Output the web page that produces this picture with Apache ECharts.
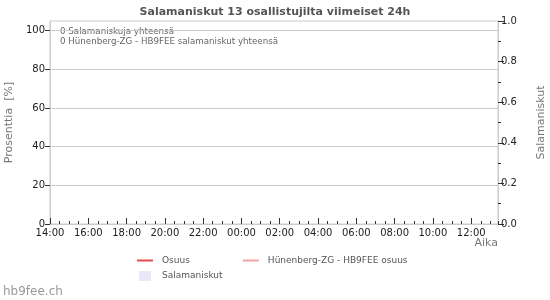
<!DOCTYPE html>
<html><head><meta charset="utf-8">
<script src="https://cdn.jsdelivr.net/npm/echarts@6/dist/echarts.min.js"></script>
<style>html,body{margin:0;padding:0;background:#fff}#c{width:550px;height:300px}</style>
</head><body><div id="c"></div>
<script>
// Hours since 14:00 (window ends ~13:24)
var startHour = 14;
var xMax = 23.4;
var xLabelHours = [0, 2, 4, 6, 8, 10, 12, 14, 16, 18, 20, 22];
var leftTicks = [0, 20, 40, 60, 80, 100];
var osuusData = [];          // no strikes -> no points
var hunenbergData = [];      // no strikes -> no points
var salamaData = [];         // no strikes -> no bars
var infoLines = ['0 Salamaniskuja yhteensä', '0 Hünenberg-ZG - HB9FEE salamaniskut yhteensä'];

var font = 'DejaVu Sans';
function hh(v){ var h = (startHour + Math.round(v)) % 24; return (h < 10 ? '0' : '') + h + ':00'; }

var chart = echarts.init(document.getElementById('c'), null, {renderer: 'canvas'});
chart.setOption({
  animation: false,
  textStyle: {fontFamily: font},
  title: {text: 'Salamaniskut 13 osallistujilta viimeiset 24h', left: 'center', top: 2,
    textStyle: {fontFamily: font, fontSize: 11, fontWeight: 'bold', color: '#555'}},
  grid: {left: 50, right: 52, top: 21, bottom: 76, show: true, borderColor: '#ccc', borderWidth: 1,
         containLabel: false, outerBoundsMode: 'none'},
  legend: [
    {data: [{name: 'Osuus', icon: 'rect'}, {name: 'Hünenberg-ZG - HB9FEE osuus', icon: 'rect'}],
     left: 137, top: 256, padding: 0, itemWidth: 16, itemHeight: 2, itemGap: 53, selectedMode: false,
     textStyle: {fontFamily: font, fontSize: 9, color: '#555', padding: [0, 0, 0, 4]}},
    {data: [{name: 'Salamaniskut', icon: 'rect'}],
     left: 139, top: 271, padding: 0, itemWidth: 12, itemHeight: 10, selectedMode: false,
     textStyle: {fontFamily: font, fontSize: 9, color: '#555', padding: [0, 0, 0, 6]}}
  ],
  xAxis: [
    {type: 'value', min: 0, max: xMax, position: 'bottom',
     name: 'Aika', nameLocation: 'end', nameGap: 0,
     nameTextStyle: {fontFamily: font, fontSize: 11, color: '#777', align: 'right', verticalAlign: 'top', padding: [14, 0, 0, 0]},
     axisLine: {show: true, onZero: false, lineStyle: {color: '#ccc'}},
     axisTick: {show: true, inside: true, length: 6, lineStyle: {color: '#333'}, customValues: xLabelHours},
     axisLabel: {customValues: xLabelHours, formatter: hh, fontFamily: font, fontSize: 10, color: '#222', margin: 4},
     splitLine: {show: false}},
    {type: 'value', min: 0, max: xMax, interval: 0.5, position: 'bottom',
     axisLine: {show: false, onZero: false},
     axisTick: {show: true, inside: true, length: 3, lineStyle: {color: '#333'}},
     axisLabel: {show: false}, splitLine: {show: false}}
  ],
  yAxis: [
    {type: 'value', min: 0, max: 105, position: 'left',
     name: 'Prosenttia  [%]', nameLocation: 'middle', nameGap: 32,
     nameTextStyle: {fontFamily: font, fontSize: 11, color: '#777'},
     axisLine: {show: true, onZero: false, lineStyle: {color: '#ccc'}},
     axisTick: {show: true, length: 5, lineStyle: {color: '#333'}, customValues: leftTicks},
     axisLabel: {customValues: leftTicks, fontFamily: font, fontSize: 10, color: '#222', margin: 5},
     splitLine: {show: true, lineStyle: {color: '#ccc'}}},
    {type: 'value', min: 0, max: 1, interval: 0.2, position: 'right',
     name: 'Salamaniskut', nameLocation: 'middle', nameGap: 38, nameRotate: 90,
     nameTextStyle: {fontFamily: font, fontSize: 11, color: '#777'},
     axisLine: {show: true, onZero: false, lineStyle: {color: '#ccc'}},
     axisTick: {show: true, length: 6, lineStyle: {color: '#333'}},
     minorTick: {show: true, splitNumber: 2, length: 3, lineStyle: {color: '#333'}},
     axisLabel: {formatter: function(v){return v.toFixed(1);}, fontFamily: font, fontSize: 10, color: '#222', margin: 3},
     splitLine: {show: false}}
  ],
  graphic: [
    {type: 'text', left: 60, top: 27, style: {text: infoLines[0], font: '8.7px DejaVu Sans', fill: '#666'}},
    {type: 'text', left: 60, top: 37, style: {text: infoLines[1], font: '8.7px DejaVu Sans', fill: '#666'}},
    {type: 'text', left: 3, top: 286, style: {text: 'hb9fee.ch', font: '12px DejaVu Sans', fill: '#999'}}
  ],
  series: [
    {name: 'Osuus', type: 'line', xAxisIndex: 0, yAxisIndex: 0, data: osuusData, color: '#e34a4a', showSymbol: false},
    {name: 'Hünenberg-ZG - HB9FEE osuus', type: 'line', xAxisIndex: 0, yAxisIndex: 0, data: hunenbergData, color: '#f7a1a1', showSymbol: false},
    {name: 'Salamaniskut', type: 'bar', xAxisIndex: 0, yAxisIndex: 1, data: salamaData, color: '#e8e8fa'}
  ]
});
</script></body></html>
